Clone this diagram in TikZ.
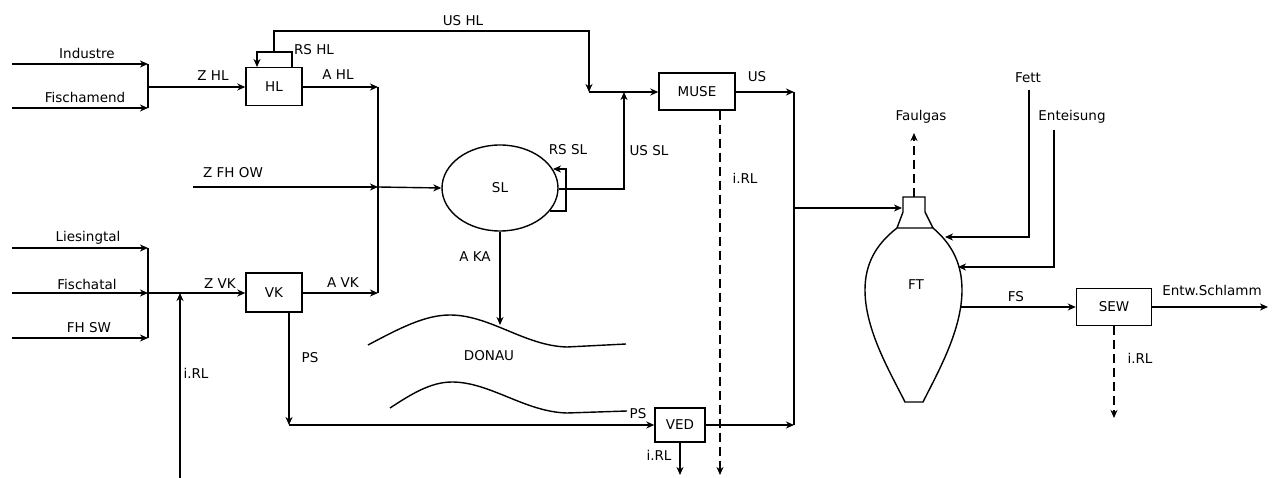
\documentclass[tikz,border=0pt]{standalone}
\usepackage{fontspec}
\setmainfont{DejaVu Sans}
\usetikzlibrary{arrows.meta,shapes.geometric}
\begin{document}
\begin{tikzpicture}[x=1pt,y=-1pt,
  line width=1.4pt,
  every node/.style={font=\fontsize{13.5}{16}\selectfont, inner sep=0pt},
  arr/.style={-{Stealth[length=8pt,width=7pt,inset=2.5pt]}},
  dashline/.style={dashed, dash pattern=on 9pt off 5pt},
  box/.style={draw, minimum width=#1, minimum height=38pt},
  lbl/.style={}
]
\useasboundingbox (0,0) rectangle (1278,478);

% ---------- HL group ----------
\node[box=56pt] (HL) at (274,86.5) {HL};
\node[lbl] (tInd) at (87,53) {Industre};
\node[lbl] (tFis) at (85,97) {Fischamend};
\coordinate (iInd) at (12,64);   \coordinate (eInd) at (148,64);
\coordinate (iFis) at (12,108);  \coordinate (eFis) at (148,108);
\coordinate (jHL) at (148,87);
\draw[arr] (iInd) -- (eInd);
\draw[arr] (iFis) -- (eFis);
\draw (eInd) -- (eFis);
\draw[arr] (jHL) -- (HL.west |- jHL);
\node[lbl] (tZHL) at (213,76) {Z HL};

% RS HL loop
\coordinate (rsa) at (292,67);
\coordinate (rsb) at (292,52);
\coordinate (rsc) at (257,52);
\coordinate (rsd) at (257,67);
\draw[arr] (rsa) -- (rsb) -- (rsc) -- (rsd);
\node[lbl] (tRSHL) at (314,50) {RS HL};

% US HL
\coordinate (usa) at (274,52);
\coordinate (usb) at (274,31);
\coordinate (usc) at (589,31);
\coordinate (usd) at (589,92);
\draw[arr] (usa) -- (usb) -- (usc) -- (usd);
\node[lbl] (tUSHL) at (463,21) {US HL};

% A HL
\coordinate (aHL) at (378,87);
\draw[arr] (HL.east |- aHL) -- (aHL);
\node[lbl] (tAHL) at (338,75) {A HL};
\coordinate (vBot) at (378,293);
\draw (aHL) -- (vBot);

% Z FH OW
\coordinate (zfa) at (193,187);
\coordinate (zfb) at (378,187);
\draw[arr] (zfa) -- (zfb);
\node[lbl] (tZFH) at (233,173) {Z FH OW};

% ---------- SL ----------
\node[draw, ellipse, minimum width=116pt, minimum height=86pt] (SL) at (500,188) {SL};
\draw[arr] (zfb) -- (SL.west);
% RS SL
\coordinate (rs1) at (550,211);
\coordinate (rs2) at (566,211);
\coordinate (rs3) at (566,169);
\coordinate (rs4) at (553,169);
\draw[arr] (rs1) -- (rs2) -- (rs3) -- (rs4);
\node[lbl] (tRSSL) at (568,150) {RS SL};
% US SL
\coordinate (us1) at (624,189);
\coordinate (us2) at (624,92);
\draw[arr] (SL.east |- us1) -- (us1) -- (us2);
\node[lbl] (tUSSL) at (649,151) {US SL};

% ---------- MUSE ----------
\node[box=76pt, minimum height=37pt] (MUSE) at (697,91.5) {MUSE};
\draw[arr] (usd) -- (MUSE.west |- usd);
\coordinate (mus1) at (794,92);
\draw[arr] (MUSE.east |- mus1) -- (mus1);
\node[lbl] (tUS) at (757,77) {US};
\coordinate (mus2) at (794,425);
\draw (mus1) -- (mus2);
\coordinate (mrl) at (720,475);
\draw[arr, dashline] (MUSE.south -| mrl) -- (mrl);
\node[lbl] (tiRL2) at (745,178) {i.RL};

% A KA and DONAU
\coordinate (aka) at (500,325);
\draw[arr] (SL.south) -- (aka);
\node[lbl] (tAKA) at (475,257) {A KA};
\draw (368,345) .. controls (400,328) and (425,315) .. (450,315)
      .. controls (490,315) and (525,346) .. (567,347) -- (626,344);
\draw (390,408) .. controls (410,395) and (430,382) .. (452,382)
      .. controls (490,382) and (525,412) .. (567,413) -- (627,411);
\node[lbl] (tDON) at (489,356) {DONAU};

% ---------- VK group ----------
\node[box=56pt, minimum height=39pt] (VK) at (274,292.5) {VK};
\node[lbl] (tLie) at (88,238) {Liesingtal};
\node[lbl] (tFst) at (87,284) {Fischatal};
\node[lbl] (tFHSW) at (89,328) {FH SW};
\coordinate (iLie) at (12,248);  \coordinate (eLie) at (148,248);
\coordinate (iFst) at (12,293);  \coordinate (eFst) at (148,293);
\coordinate (iFHS) at (12,338);  \coordinate (eFHS) at (148,338);
\draw[arr] (iLie) -- (eLie);
\draw[arr] (iFst) -- (eFst);
\draw[arr] (iFHS) -- (eFHS);
\draw (eLie) -- (eFHS);
\draw[arr] (eFst) -- (VK.west |- eFst);
\node[lbl] (tZVK) at (220,284) {Z VK};
\coordinate (irl1a) at (180,478);
\coordinate (irl1b) at (180,293);
\draw[arr] (irl1a) -- (irl1b);
\node[lbl] (tiRL1) at (196,373) {i.RL};
\draw[arr] (VK.east |- vBot) -- (vBot);
\node[lbl] (tAVK) at (343,283) {A VK};
% PS
\coordinate (ps1) at (289,425);
\draw[arr] (VK.south -| ps1) -- (ps1);
\node[lbl] (tPS1) at (310,358) {PS};

% ---------- VED ----------
\node[box=50pt, minimum height=34pt] (VED) at (680,425) {VED};
\draw[arr] (ps1) -- (VED.west);
\node[lbl] (tPS2) at (638,414) {PS};
\draw[arr] (VED.east) -- (mus2);
\coordinate (vrl) at (680,475);
\draw[arr] (VED.south) -- (vrl);
\node[lbl] (tiRL3) at (659,455) {i.RL};

% ---------- FT ----------
\draw (903,212) -- (903,197) -- (925,197) -- (925,212)
      (903,212) -- (897,228) (925,212) -- (933,228)
      (897,228) -- (933,228);
\draw (897,228) .. controls (875,245) and (865,265) .. (865,290)
      .. controls (865,330) and (890,372) .. (905,402) -- (923,402)
      .. controls (938,372) and (962,330) .. (962,290)
      .. controls (962,265) and (953,245) .. (933,228);
\node[lbl] (FT) at (916,285) {FT};
\coordinate (ftin) at (794,208);
\coordinate (ftneck) at (902,208);
\draw[arr] (ftin) -- (ftneck);
% Faulgas
\coordinate (fg1) at (914,197);
\coordinate (fg2) at (914,133);
\draw[arr, dashline] (fg1) -- (fg2);
\node[lbl] (tFaul) at (921,117) {Faulgas};
% Fett
\node[lbl] (tFett) at (1028,78) {Fett};
\coordinate (fe1) at (1029,90);
\coordinate (fe2) at (1029,237);
\coordinate (fe3) at (945,237);
\draw[arr] (fe1) -- (fe2) -- (fe3);
% Enteisung
\node[lbl] (tEnt) at (1072,117) {Enteisung};
\coordinate (en1) at (1054,130);
\coordinate (en2) at (1054,267);
\coordinate (en3) at (958,267);
\draw[arr] (en1) -- (en2) -- (en3);

% ---------- SEW ----------
\node[box=75pt, minimum height=37pt] (SEW) at (1114,307) {SEW};
\coordinate (fs0) at (961,307);
\draw[arr] (fs0) -- (SEW.west);
\node[lbl] (tFS) at (1016,297) {FS};
\coordinate (ent) at (1268,307);
\draw[arr] (SEW.east) -- (ent);
\node[lbl] (tEntw) at (1212,290) {Entw.Schlamm};
\coordinate (srl) at (1114,418);
\draw[arr, dashline] (SEW.south) -- (srl);
\node[lbl] (tiRL4) at (1140,358) {i.RL};
\end{tikzpicture}
\end{document}
